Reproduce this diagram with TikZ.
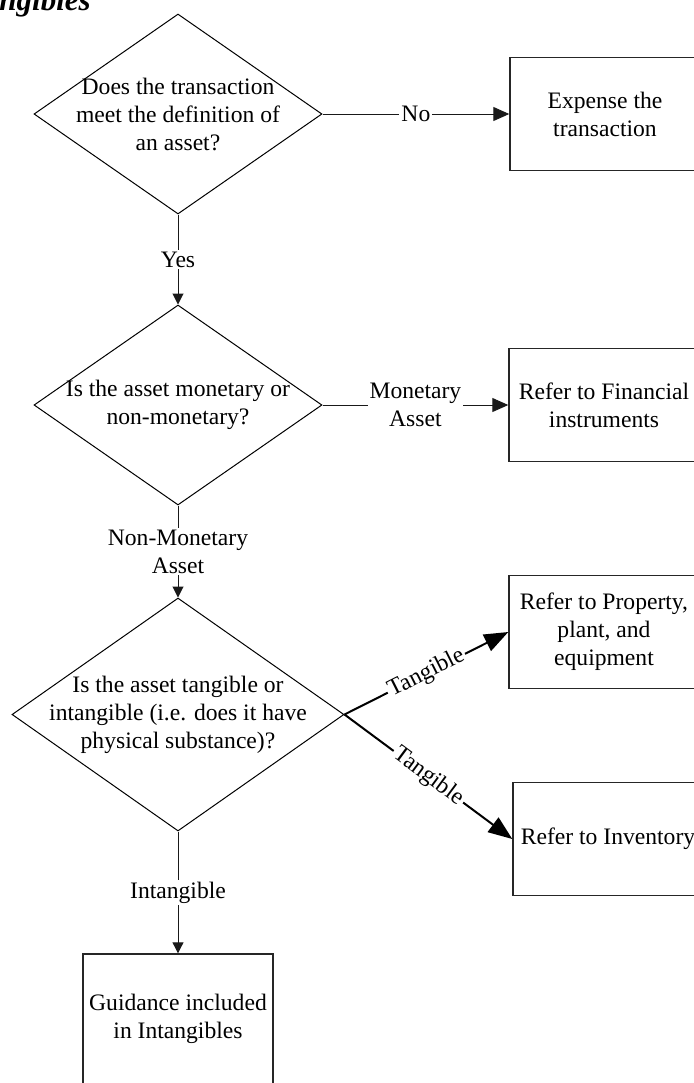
\documentclass[tikz,border=0pt]{standalone}
\usepackage{fontspec}
\setmainfont{Liberation Serif}
\usetikzlibrary{shapes.geometric,arrows.meta}
\begin{document}
\begin{tikzpicture}[x=0.5pt,y=-0.5pt,
  font=\fontsize{11.8}{14}\selectfont,
  decision/.style={diamond,draw=black,line width=0.5pt,inner sep=0pt,minimum width=144pt,minimum height=100pt},
  bigdecision/.style={decision,minimum width=166pt,minimum height=116.5pt},
  outcome/.style={rectangle,draw=black!85,line width=0.7pt,minimum width=95pt,minimum height=56.5pt,align=center,inner sep=0pt},
  txt/.style={align=center,inner sep=0pt},
  vflow/.style={draw=black!90,line width=0.5pt,-{Triangle[length=5.5pt,width=5.5pt]}},
  hflow/.style={draw=black!90,line width=0.5pt,-{Triangle[length=8pt,width=7pt]}},
  dflow/.style={draw=black,line width=1pt,-{Triangle[length=12pt,width=9pt]}},
  lbl/.style={fill=white,inner sep=1pt,align=center},
]
\clip (0,0) rectangle (694,1083);
% title (cut off at the top)
\node[font=\fontsize{15.5}{18}\selectfont\bfseries\itshape,anchor=base west,inner sep=0pt] (title) at (-1,10) {ngibles};
% decisions
\node[decision] (d1) at (178,114) {};
\node[txt] (t1) at (d1.center) {Does the transaction\\meet the definition of\\an asset?};
\node[decision] (d2) at (178,405) {};
\node[txt] (t2) at (d2.center) {Is the asset monetary or\\non-monetary?};
\node[bigdecision] (d3) at (178,714.5) {};
\node[txt] (t3) at (d3.center) {Is the asset tangible or\\intangible (i.e. does it have\\physical substance)?};
% outcomes
\node[outcome] (b1) at (605,114) {Expense the\\transaction};
\node[outcome] (b2) at (604,405) {Refer to Financial\\instruments};
\node[outcome] (b3) at (604,632) {Refer to Property,\\plant, and\\equipment};
\node[outcome] (b4) at (608,839) {Refer to Inventory};
\node[outcome,minimum height=65pt] (b5) at (178,1019) {Guidance included\\in Intangibles};
% connectors
\draw[hflow] (d1.east) -- node[lbl]{No} (b1.west);
\draw[vflow] (d1.south) -- node[lbl]{Yes} (d2.north);
\draw[hflow] (d2.east) -- node[lbl]{Monetary\\Asset} (b2.west);
\draw[vflow] (d2.south) -- node[lbl]{Non-Monetary\\Asset} (d3.north);
\draw[dflow] (d3.east) -- node[lbl,sloped]{Tangible} (b3.west);
\draw[dflow] (d3.east) -- node[lbl,sloped]{Tangible} (b4.west);
\draw[vflow] (d3.south) -- node[lbl]{Intangible} (b5.north);
\end{tikzpicture}
\end{document}
